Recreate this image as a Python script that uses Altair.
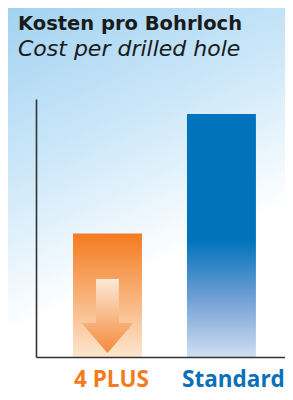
import altair as alt
import pandas as pd

# data
categories = ["4 PLUS", "Standard"]
costs = [50.8, 100.0]
arrow_value = [16.9]
title_de = "Kosten pro Bohrloch"
title_en = "Cost per drilled hole"

bars_df = pd.DataFrame({"cat": categories, "cost": costs})
arrow_df = pd.DataFrame({"cat": [categories[0]], "v": arrow_value})
title_df = pd.DataFrame({"t": [title_de]})
sub_df = pd.DataFrame({"t": [title_en]})

TOTAL_W, TOTAL_H = 277, 384
W, H = 249, 258
PL, PT = 28, 91

xscale = alt.Scale(domain=categories, paddingInner=0.395, paddingOuter=0.29, align=0.56)
yscale = alt.Scale(domain=[0, 106.2], nice=False)

bg = alt.Chart(pd.DataFrame({"a": [0]})).mark_rect(
    color=alt.Gradient(
        gradient="linear",
        x1=0, y1=0, x2=0.3, y2=0.9,
        stops=[
            alt.GradientStop(offset=0, color="#a2d2f1"),
            alt.GradientStop(offset=0.45, color="#cde8f9"),
            alt.GradientStop(offset=0.85, color="#ffffff"),
            alt.GradientStop(offset=1, color="#ffffff"),
        ],
    )
).encode(
    x=alt.value(-PL), x2=alt.value(TOTAL_W - PL),
    y=alt.value(-PT), y2=alt.value(TOTAL_H - PT),
)

x_enc = alt.X("cat:N", scale=xscale, sort=categories, title=None,
              axis=alt.Axis(domain=True, domainColor="#333333", domainWidth=1.6,
                            ticks=False, labelAngle=0, labelFontSize=22.5,
                            labelFontWeight="bold", labelFont="Open Sans",
                            labelPadding=29, labelBaseline="alphabetic", zindex=2,
                            labelOffset=alt.expr("datum.value == '4 PLUS' ? 4 : 12"),
                            labelColor=alt.expr("datum.value == '4 PLUS' ? '#f47b20' : '#0a70b8'"),
                            grid=False))
y_enc = alt.Y("cost:Q", scale=yscale, title=None,
              axis=alt.Axis(domain=True, domainColor="#333333", domainWidth=1.6,
                            ticks=False, labels=False, grid=False, zindex=2))

orange = alt.Chart(bars_df).transform_filter(alt.datum.cat == "4 PLUS").mark_bar(
    color=alt.Gradient(
        gradient="linear", x1=0, y1=0, x2=0, y2=1,
        stops=[
            alt.GradientStop(offset=0, color="#f47b20"),
            alt.GradientStop(offset=1, color="#fde6cf"),
        ],
    )
).encode(x=x_enc, y=y_enc)

blue = alt.Chart(bars_df).transform_filter(alt.datum.cat == "Standard").mark_bar(
    color=alt.Gradient(
        gradient="linear", x1=0, y1=0, x2=0, y2=1,
        stops=[
            alt.GradientStop(offset=0, color="#0073bc"),
            alt.GradientStop(offset=0.52, color="#0073bc"),
            alt.GradientStop(offset=0.75, color="#6d9dd3"),
            alt.GradientStop(offset=1, color="#cfdff2"),
        ],
    )
).encode(x=x_enc, y=y_enc)

arrow_path = "M -0.31 -1 L 0.31 -1 L 0.31 0.19 L 0.70 0.19 L 0 1 L -0.70 0.19 L -0.31 0.19 Z"
arrow = alt.Chart(arrow_df).mark_point(
    shape=arrow_path, size=5476, filled=True, opacity=1, strokeWidth=0,
    fill=alt.Gradient(
        gradient="linear", x1=0, y1=0, x2=0, y2=1,
        stops=[
            alt.GradientStop(offset=0, color="#fde9d6"),
            alt.GradientStop(offset=1, color="#f5893a"),
        ],
    )
).encode(x=alt.X("cat:N", scale=xscale, sort=categories),
         y=alt.Y("v:Q", scale=yscale))

title_txt = alt.Chart(title_df).mark_text(
    align="left", baseline="alphabetic", font="DejaVu Sans", fontSize=19.5,
    fontWeight="bold", color="#1a1a1a"
).encode(text="t:N", x=alt.value(-18), y=alt.value(-69))

sub_txt = alt.Chart(sub_df).mark_text(
    align="left", baseline="alphabetic", font="DejaVu Sans", fontSize=22,
    fontStyle="italic", color="#1a1a1a"
).encode(text="t:N", x=alt.value(-18), y=alt.value(-43.5))

chart = alt.layer(bg, orange, blue, arrow, title_txt, sub_txt).properties(
    width=W, height=H,
    padding={"left": PL, "top": PT, "right": TOTAL_W - PL - W, "bottom": TOTAL_H - PT - H},
    autosize=alt.AutoSizeParams(type="none"),
).configure_view(stroke=None).configure(background="#ffffff")

chart.save("out.html", embed_options={"renderer": "svg", "actions": False})
